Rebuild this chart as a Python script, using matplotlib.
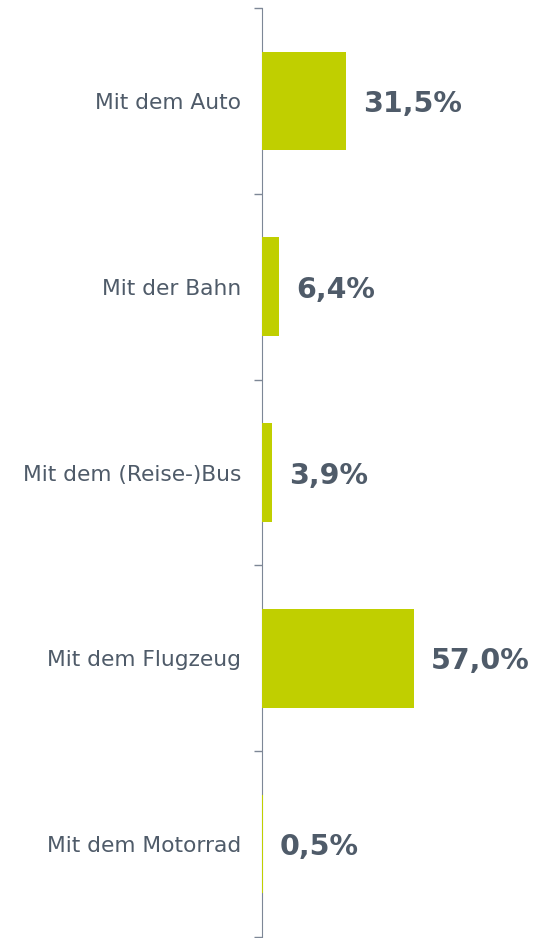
import matplotlib.pyplot as plt
import numpy as np

# data
categories = ['Mit dem Auto', 'Mit der Bahn', 'Mit dem (Reise-)Bus', 'Mit dem Flugzeug', 'Mit dem Motorrad']
values = [31.5, 6.4, 3.9, 57.0, 0.5]
value_labels = ['31,5%', '6,4%', '3,9%', '57,0%', '0,5%']

bar_color = '#c0cf00'
text_color = '#4f5b69'
axis_color = '#7d8796'

fig = plt.figure(figsize=(5.49, 9.38), dpi=100)
ax = fig.add_axes([262/549, 1/938, 267/549, 929/938])

pos = np.arange(len(categories))
ax.barh(pos, values, height=0.53, color=bar_color, zorder=3)

ax.set_xlim(0, 100)
ax.set_ylim(len(categories) - 0.5, -0.5)

# value labels next to bars
for p, v, lab in zip(pos, values, value_labels):
    ax.annotate(lab, (v, p), xytext=(12, 0), textcoords='offset points',
                va='center_baseline', ha='left', fontsize=20.5, fontweight='bold',
                color=text_color)

# ticks on the category borders, labels in the middle
ax.set_yticks(np.arange(len(categories) + 1) - 0.5)
ax.set_yticklabels([])
ax.set_yticks(pos, minor=True)
ax.set_yticklabels(categories, minor=True, fontsize=15.7, color=text_color)
ax.tick_params(axis='y', which='major', length=6, color=axis_color, width=1)
ax.tick_params(axis='y', which='minor', length=0, pad=15)

ax.set_xticks([])
for s in ['top', 'right', 'bottom']:
    ax.spines[s].set_visible(False)
ax.spines['left'].set_color(axis_color)
ax.spines['left'].set_zorder(2)

plt.savefig('out.png', dpi=100)
